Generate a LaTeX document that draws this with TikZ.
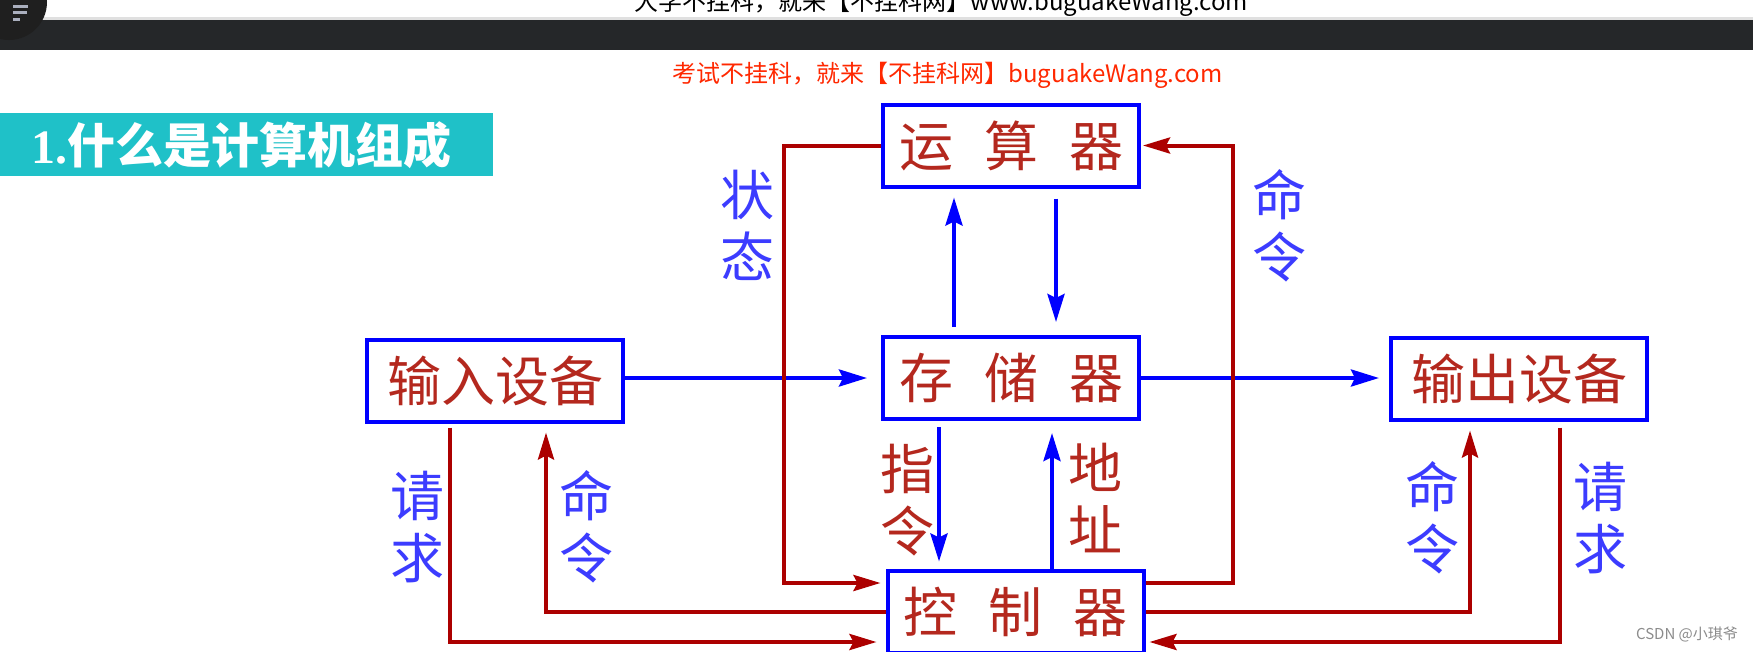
\documentclass[tikz,border=0pt]{standalone}
\usepackage{fontspec}
\newfontfamily\cjk{Noto Sans CJK SC}
\newfontfamily\serifb{Liberation Serif}
\usetikzlibrary{arrows.meta}
\definecolor{bblue}{RGB}{0,0,255}
\definecolor{redline}{RGB}{172,0,0}
\definecolor{btext}{RGB}{180,40,30}
\definecolor{lblue}{RGB}{60,60,255}
\definecolor{bannerteal}{RGB}{31,193,200}
\definecolor{darkbar}{RGB}{37,39,41}
\definecolor{adred}{RGB}{255,40,0}
\definecolor{menugray}{RGB}{170,175,190}
\begin{document}
\begin{tikzpicture}[x=1pt,y=-1pt,
  box/.style={draw=bblue,line width=4pt,minimum width=256pt,minimum height=82pt,inner sep=0pt,
    font=\cjk\fontsize{54}{60}\selectfont,text=btext},
  lbl/.style={font=\cjk\fontsize{54}{62}\selectfont,text=lblue,align=center,inner sep=0pt},
  rlbl/.style={lbl,text=btext},
  barrow/.style={draw=bblue,line width=4pt,-{Stealth[length=28pt,width=17pt,inset=4pt]}},
  rarrow/.style={draw=redline,line width=4pt,-{Stealth[length=27pt,width=16pt,inset=4pt]}},
  rpath/.style={draw=redline,line width=4pt}
]
\useasboundingbox (0,0) rectangle (1753,651);
\fill[white] (0,0) rectangle (1753,651);
% browser chrome
\fill[black!12] (0,17) rectangle (1753,20);
\fill[darkbar] (0,20) rectangle (1753,50);
\node[anchor=base,font=\cjk\fontsize{24}{24}\selectfont,inner sep=0pt] (toptext) at (941.5,10)
  {大学不挂科，就来【不挂科网】www.buguakeWang.com};
\fill[black!88] (9,2) circle (38);
\fill[menugray] (13,5) rectangle (28,8);
\fill[menugray] (13,11) rectangle (27,14);
\fill[menugray] (13,17.5) rectangle (20,20.5);
% ad line
\node[anchor=base,font=\cjk\fontsize{24}{24}\selectfont,text=adred,inner sep=0pt] (ad) at (947.5,82)
  {考试不挂科，就来【不挂科网】buguakeWang.com};
% banner
\fill[bannerteal] (0,113) rectangle (493,176);
\node[anchor=west,text=white,inner sep=0pt,font=\cjk\bfseries\fontsize{48}{48}\selectfont] (title) at (31,145)
  {{\serifb\bfseries 1.}什么是计算机组成};
% boxes
\node[box] (alu) at (1011,145.5) {运\hspace{31pt}算\hspace{31pt}器};
\node[box] (mem) at (1011,378) {存\hspace{31pt}储\hspace{31pt}器};
\node[box] (ctrl) at (1015.5,611.5) {控\hspace{31pt}制\hspace{31pt}器};
\node[box] (inp) at (495,380.5) {输入设备};
\node[box] (outp) at (1519,378.5) {输出设备};
% helper coordinates
\coordinate (xz) at (784,0);
\coordinate (xm) at (1233,0);
\coordinate (xl1) at (546,0);
\coordinate (xq1) at (450,0);
\coordinate (xl3) at (1470,0);
\coordinate (xq3) at (1560,0);
\coordinate (xa1) at (954,0);
\coordinate (xa2) at (1056,0);
\coordinate (xa3) at (939,0);
\coordinate (xa4) at (1052,0);
\coordinate (cwu) at ([yshift=28.5pt]ctrl.west);
\coordinate (cwd) at ([yshift=-30.5pt]ctrl.west);
\coordinate (ceu) at ([yshift=28.5pt]ctrl.east);
\coordinate (ced) at ([yshift=-30.5pt]ctrl.east);
% blue connectors
\draw[barrow,shorten >=14pt] (inp.east |- mem.west) -- (mem.west);
\draw[barrow,shorten >=10pt] (mem.east) -- (outp.west |- mem.east);
\draw[barrow,shorten <=8pt,shorten >=9pt] (xa1 |- mem.north) -- (xa1 |- alu.south);
\draw[barrow,shorten <=10pt,shorten >=13pt] (xa2 |- alu.south) -- (xa2 |- mem.north);
\draw[barrow,shorten <=6pt,shorten >=7pt] (xa3 |- mem.south) -- (xa3 |- ctrl.north);
\draw[barrow,shorten >=12pt] (xa4 |- ctrl.north) -- (xa4 |- mem.south);
% red connectors
\draw[rarrow,shorten >=5pt] (alu.west) -| (xz |- cwu) -- (cwu);
\draw[rarrow,shorten >=2pt] (ceu) -| (xm |- alu.east) -- (alu.east);
\draw[rarrow,shorten >=9pt] (ctrl.west) -| (xl1 |- inp.south);
\draw[rarrow,shorten <=4pt,shorten >=9pt] (xq1 |- inp.south) |- (cwd);
\draw[rarrow,shorten >=9pt] (ctrl.east) -| (xl3 |- outp.south);
\draw[rarrow,shorten <=6pt,shorten >=4pt] (xq3 |- outp.south) |- (ced);
% labels
\node[lbl] (lzt) at (747,225) {状\\态};
\node[lbl] (lml1) at (1279,226) {命\\令};
\node[lbl] (lqq1) at (417,527) {请\\求};
\node[lbl] (lml2) at (586,527) {命\\令};
\node[rlbl] (lzl) at (907,500) {指\\令};
\node[rlbl] (ldz) at (1095,498) {地\\址};
\node[lbl] (lml3) at (1432,518) {命\\令};
\node[lbl] (lqq2) at (1600,518) {请\\求};
\node[font=\cjk\fontsize{15}{15}\selectfont,text=black!45,inner sep=0pt] (wm) at (1687,634) {CSDN @小琪爷};
\end{tikzpicture}
\end{document}
